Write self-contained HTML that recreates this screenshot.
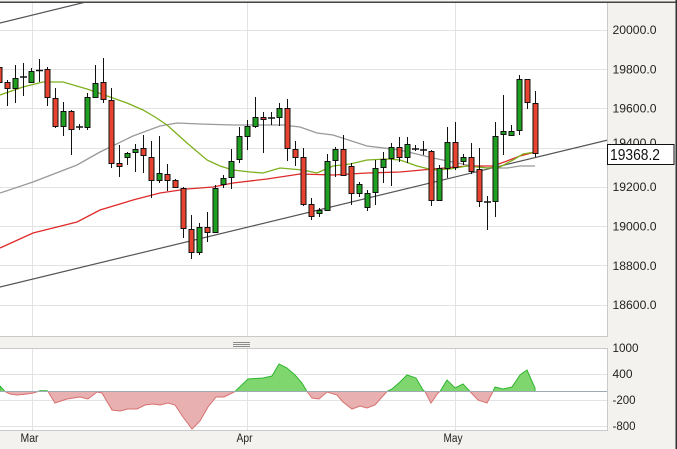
<!DOCTYPE html>
<html><head><meta charset="utf-8"><style>
html,body{margin:0;padding:0;background:#f4f2ee;}
svg{display:block;}
text{font-family:"Liberation Sans",Arial,sans-serif;}
</style></head><body>
<svg width="677" height="449" viewBox="0 0 677 449" xmlns="http://www.w3.org/2000/svg">
<defs>
<clipPath id="cm"><rect x="0" y="3" width="608" height="334"/></clipPath>
<clipPath id="ci"><rect x="0" y="348" width="608" height="83"/></clipPath>
</defs>
<rect x="0" y="0" width="677" height="449" fill="#f4f2ee"/>
<rect x="0" y="3" width="608" height="334" fill="#fff"/>
<path stroke="#e3e3e3" stroke-width="1" fill="none" d="M0 30.5H608M0 69.5H608M0 108.5H608M0 148.5H608M0 187.5H608M0 226.5H608M0 265.5H608M0 305.5H608M32.5 3V337M247.5 3V337M455.5 3V337"/>
<g clip-path="url(#cm)">
<path stroke="#555" stroke-width="1.2" fill="none" d="M0 287L608 140M0 23L90 1"/>
<polyline fill="none" stroke="#999" stroke-width="1.3" points="0,193 33,182 77,165 100,152 133,136 160,126 177,123 200,124 233,125 283,125 300,127 317,133 333,135 367,146 400,150 433,158 453,162 467,165 487,168 507,168 520,166 535,166"/>
<polyline fill="none" stroke="#e02a2a" stroke-width="1.3" points="0,248 33,233 77,222 100,210 133,200 160,193 187,189 213,187 233,183 267,179 300,174 333,175 367,173 400,172 433,169 467,166 493,166 507,161 520,156 535,152"/>
<polyline fill="none" stroke="#7cb01c" stroke-width="1.3" points="0,95 23,87 43,82 63,82 87,89 110,97 127,103 143,110 155,117 167,125 187,143 207,160 220,166 233,170 250,172 263,173 280,168 303,170 317,173 333,166 350,164 367,160 387,159 400,160 417,166 433,170 450,169 467,166 487,168 500,167 513,160 523,154 535,152"/>
<path stroke="#111" stroke-width="1" fill="none" d="M-0.5 38V85M7.5 80V106M15.5 65V103M23.5 63V96M31.5 68V83M39.5 59V82M47.5 67V106M55.5 88V128M63.5 102V136M71.5 110V155M79.5 124V130M87.5 93V130M95.5 65V98M103.5 58V103M111.5 88V168M119.5 145V177M127.5 152V165M135.5 144V172M143.5 135V173M151.5 141V198M159.5 136V183M167.5 164V191M175.5 179V188M183.5 187V238M191.5 215V259M199.5 223V255M207.5 212V242M215.5 185V233M223.5 175V188M231.5 149V189M239.5 127V163M247.5 120V150M255.5 97V128M263.5 112V153M271.5 112V125M279.5 103V126M287.5 99V161M295.5 141V166M303.5 148V206M311.5 198V220M319.5 208V217M327.5 154V211M335.5 147V177M343.5 135V175M351.5 163V205M359.5 182V197M367.5 190V211M375.5 160V205M383.5 152V183M391.5 143V186M399.5 137V162M407.5 137V163M415.5 145V151M423.5 141V155M431.5 150V206M439.5 165V201M447.5 127V178M455.5 122V170M463.5 154V165M471.5 143V174M479.5 148V207M487.5 196V230M495.5 122V217M503.5 95V155M511.5 125V136M519.5 75V135M527.5 79V109M535.5 91V157"/>
<path stroke="#111" stroke-width="1.5" fill="none" d="M20 77H27M36 70.5H43M76 127H83M268 118H275M412 149H419M420 150H427M484 202H491"/>
<path fill="#e8432e" stroke="#111" stroke-width="1" d="M-3 67.5h5v15h-5zM5 82.5h5v6h-5zM45 69.5h5v28h-5zM53 98.5h5v28h-5zM69 111.5h5v18h-5zM101 82.5h5v17h-5zM109 100.5h5v63h-5zM117 163.5h5v3h-5zM141 148.5h5v7h-5zM149 157.5h5v23h-5zM165 174.5h5v6h-5zM173 180.5h5v7h-5zM181 188.5h5v40h-5zM189 229.5h5v23h-5zM205 227.5h5v5h-5zM261 117.5h5v2h-5zM285 108.5h5v40h-5zM293 149.5h5v8h-5zM301 157.5h5v47h-5zM309 204.5h5v12h-5zM341 149.5h5v26h-5zM349 166.5h5v27h-5zM397 147.5h5v10h-5zM429 151.5h5v49h-5zM453 142.5h5v25h-5zM469 157.5h5v14h-5zM477 169.5h5v32h-5zM525 79.5h5v23h-5zM533 103.5h5v50h-5z"/>
<path fill="#1f9e1f" stroke="#111" stroke-width="1" d="M13 78.5h5v10h-5zM29 71.5h5v11h-5zM61 111.5h5v15h-5zM85 97.5h5v30h-5zM93 83.5h5v14h-5zM125 153.5h5v4h-5zM133 149.5h5v3h-5zM157 173.5h5v7h-5zM197 227.5h5v25h-5zM213 188.5h5v44h-5zM221 178.5h5v6h-5zM229 161.5h5v16h-5zM237 136.5h5v23h-5zM245 126.5h5v10h-5zM253 117.5h5v9h-5zM277 108.5h5v9h-5zM317 210.5h5v3h-5zM325 161.5h5v49h-5zM333 149.5h5v11h-5zM357 184.5h5v9h-5zM365 193.5h5v14h-5zM373 168.5h5v24h-5zM381 159.5h5v8h-5zM389 147.5h5v11h-5zM405 144.5h5v13h-5zM437 168.5h5v32h-5zM445 142.5h5v26h-5zM461 157.5h5v4h-5zM493 136.5h5v65h-5zM501 131.5h5v3h-5zM509 131.5h5v4h-5zM517 79.5h5v51h-5z"/>
</g>
<path stroke="#c9c9c9" stroke-width="1" fill="none" d="M0 336.5H608M607.5 3V337"/>
<path stroke="#8a8a8a" stroke-width="1" fill="none" d="M233 342.5H250M233 344.5H250M233 346.5H250"/>
<rect x="0" y="348" width="608" height="83" fill="#fff"/>
<path stroke="#e3e3e3" stroke-width="1" fill="none" d="M0 374.5H608M0 400.5H608M0 426.5H608M32.5 348V431M247.5 348V431M455.5 348V431"/>
<g clip-path="url(#ci)">
<path fill="#e8b0b0" stroke="#d77070" stroke-width="1" d="M5 391.5L10 394 17 395 27 394 33 393 38 391.5ZM48 391.5L55 403 67 399 80 397 88 399 97 392 102 393 112 410 120 411 128 409 137 409 145 405 153 404 160 405 168 403 175 405 183 417 192 429 200 421 208 407 216 397 224 397 232 393 235 391.5ZM307 391.5L312 398 319 399 327 392 337 395 343 402 352 409 360 406 367 408 375 405 382 397 387 391.5ZM425 391.5L431 403 438 393 440 391.5ZM470 391.5L478 400 487 403 493 391.5Z"/>
<path fill="#80d66e" stroke="#2fb52f" stroke-width="1" d="M0 386L5 391.5 0 391.5ZM38 391.5L40 390.8 47 390.8 48 391.5ZM235 391.5L248 379 263 378 272 376 279 364 287 368 295 375 302 383 307 391.5ZM387 391.5L392 389 400 382 407 375 416 378 423 390 425 391.5ZM440 391.5L447 380 455 388 463 384 470 391.5ZM493 391.5L495 387 503 389 512 387 520 375 527 370 535 388 535 391.5Z"/>
</g>
<path stroke="#9eaab4" stroke-width="1" fill="none" d="M0 391.5H608"/>
<path stroke="#c9c9c9" stroke-width="1" fill="none" d="M0 348.5H608M0 430.5H608M607.5 348V431"/>
<rect x="0" y="1.5" width="677" height="1.5" fill="#444"/>
<rect x="675.5" y="0" width="1.5" height="449" fill="#333"/>
<g fill="#222" font-size="11.5">
<text x="612.5" y="34" textLength="44" lengthAdjust="spacingAndGlyphs">20000.0</text>
<text x="612.5" y="73.3" textLength="44" lengthAdjust="spacingAndGlyphs">19800.0</text>
<text x="612.5" y="112.6" textLength="44" lengthAdjust="spacingAndGlyphs">19600.0</text>
<text x="612.5" y="147" textLength="44" lengthAdjust="spacingAndGlyphs">19400.0</text>
<text x="612.5" y="191.2" textLength="44" lengthAdjust="spacingAndGlyphs">19200.0</text>
<text x="612.5" y="230.5" textLength="44" lengthAdjust="spacingAndGlyphs">19000.0</text>
<text x="612.5" y="269.8" textLength="44" lengthAdjust="spacingAndGlyphs">18800.0</text>
<text x="612.5" y="309" textLength="44" lengthAdjust="spacingAndGlyphs">18600.0</text>
<text x="612.5" y="352" textLength="26" lengthAdjust="spacingAndGlyphs">1000</text>
<text x="612.5" y="378" textLength="20" lengthAdjust="spacingAndGlyphs">400</text>
<text x="612.5" y="404" textLength="23" lengthAdjust="spacingAndGlyphs">-200</text>
<text x="612.5" y="430" textLength="23" lengthAdjust="spacingAndGlyphs">-800</text>
<text x="20.5" y="442" textLength="18" lengthAdjust="spacingAndGlyphs">Mar</text>
<text x="236.5" y="442" textLength="16" lengthAdjust="spacingAndGlyphs">Apr</text>
<text x="443.5" y="442" textLength="19" lengthAdjust="spacingAndGlyphs">May</text>
</g>
<rect x="607.5" y="144.5" width="66.5" height="20" fill="#fff" stroke="#111" stroke-width="1"/>
<text x="610" y="160" font-size="16" fill="#111" textLength="50" lengthAdjust="spacingAndGlyphs">19368.2</text>
</svg>
</body></html>
